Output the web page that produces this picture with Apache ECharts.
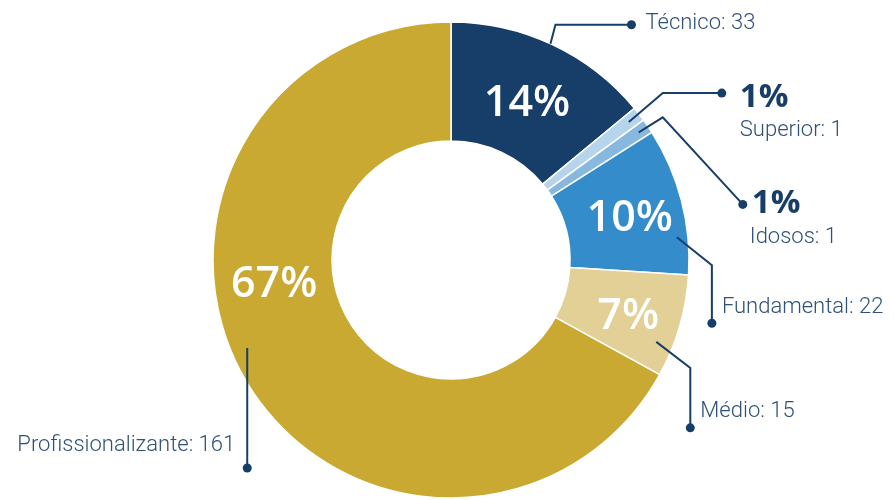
<!DOCTYPE html>
<html>
<head>
<meta charset="utf-8">
<script src="https://cdn.jsdelivr.net/npm/echarts@6/dist/echarts.min.js"></script>
<style>
  html, body { margin: 0; background: #fff; }
  #chart { width: 894px; height: 500px; }
</style>
</head>
<body>
<div id="chart"></div>
<script>
const categories = ['Técnico', 'Superior', 'Idosos', 'Fundamental', 'Médio', 'Profissionalizante']
const shares = [14, 1, 1, 10, 7, 67]          // slice sizes (%)
const counts = [33, 1, 1, 22, 15, 161]
const pctLabels = ['14%', '1%', '1%', '10%', '7%', '67%']
const colors = ['#163e69', '#b6d4eb', '#87b8e0', '#348ccb', '#e3d096', '#c9a931']

const NAVY = '#163e69'
const TEXT = '#2f5177'
const NAME_FONT = '300 22px Roboto, "Noto Sans", sans-serif'
const PCT_FONT = '600 43px "Open Sans", "Noto Sans", sans-serif'
const SMALL_PCT_FONT = '700 33px "Open Sans", "Noto Sans", sans-serif'

// percentages drawn inside the ring: fraction along the slice, radial nudge, vertical nudge (null = outside)
const insideAt = [[0.5, 0, 5], null, null, [0.5, 6, 5], [0.5, 6, 5], [0.595, 0, 1]]

// callouts: start point on the slice, then offsets to elbow / dot, then text placement
const callouts = [
    { at: 0.49, inset: 0,  path: [[5, -19], [76, 0]],   name: { dx: 14, dy: -1 } },
    { at: 0.5,  inset: 13, path: [[34, -29], [59, 0]],  pct: { dx: 18, dy: 4 },  name: { dx: 18, dy: 37 } },
    { at: 0.5,  inset: 11, path: [[24, -15], [80, 87]], pct: { dx: 9, dy: -1 },  name: { dx: 7, dy: 33 } },
    { at: 0.74, inset: 11, path: [[35, 28], [0, 58]],   name: { dx: 10, dy: -16 } },
    { at: 0.72, inset: 17, path: [[34, 26], [0, 60]],   name: { dx: 10, dy: -16 } },
    { at: 0.53, inset: 16, path: [[0, 120]],            name: { dx: -12, dy: -23, align: 'right' } }
]

const chart = echarts.init(document.getElementById('chart'))

chart.setOption({
    animation: false,
    color: colors,
    series: [
        {
            type: 'pie',
            center: ['50.45%', '52%'],
            radius: [119, 238],
            startAngle: 90,
            clockwise: true,
            itemStyle: { borderColor: '#fff', borderWidth: 1.5 },
            label: { show: false },
            labelLine: { show: false },
            emphasis: { disabled: true },
            data: categories.map((name, i) => ({ name, value: shares[i] }))
        }
    ]
})

function sliceLayout(i) {
    const data = chart.getModel().getSeriesByIndex(0).getData()
    return data.getItemLayout(i)
}

function pointAt(l, frac, radius) {
    const a = l.startAngle + (l.endAngle - l.startAngle) * frac
    return [l.cx + radius * Math.cos(a), l.cy + radius * Math.sin(a)]
}

function buildGraphics() {
    const els = []
    categories.forEach((name, i) => {
        const l = sliceLayout(i)
        const ins = insideAt[i]
        if (ins != null) {
            const p = pointAt(l, ins[0], (l.r + l.r0) / 2 + ins[1])
            els.push({
                type: 'text', z: 100,
                style: { text: pctLabels[i], x: p[0], y: p[1] + ins[2], font: PCT_FONT, fill: '#fff',
                    textAlign: 'center', textVerticalAlign: 'middle' }
            })
        }
        const c = callouts[i]
        let pt = pointAt(l, c.at, l.r - c.inset)
        const pts = [pt]
        c.path.forEach(d => { pt = [pt[0] + d[0], pt[1] + d[1]]; pts.push(pt) })
        const dot = pts[pts.length - 1]
        els.push({
            type: 'polyline', z: 100,
            shape: { points: pts },
            style: { stroke: NAVY, lineWidth: 2, fill: null }
        })
        els.push({
            type: 'circle', z: 101,
            shape: { cx: dot[0], cy: dot[1], r: 4.5 },
            style: { fill: NAVY }
        })
        if (c.pct) {
            els.push({
                type: 'text', z: 100,
                style: { text: pctLabels[i], x: dot[0] + c.pct.dx, y: dot[1] + c.pct.dy,
                    font: SMALL_PCT_FONT, fill: NAVY, textAlign: 'left', textVerticalAlign: 'middle' }
            })
        }
        els.push({
            type: 'text', z: 100,
            style: { text: name + ': ' + counts[i], x: dot[0] + c.name.dx, y: dot[1] + c.name.dy,
                font: NAME_FONT, fill: TEXT, textAlign: c.name.align || 'left', textVerticalAlign: 'middle' }
        })
    })
    chart.setOption({ graphic: { elements: els } })
}

buildGraphics()

window.addEventListener('resize', () => {
    chart.resize()
    buildGraphics()
})
</script>
</body>
</html>
